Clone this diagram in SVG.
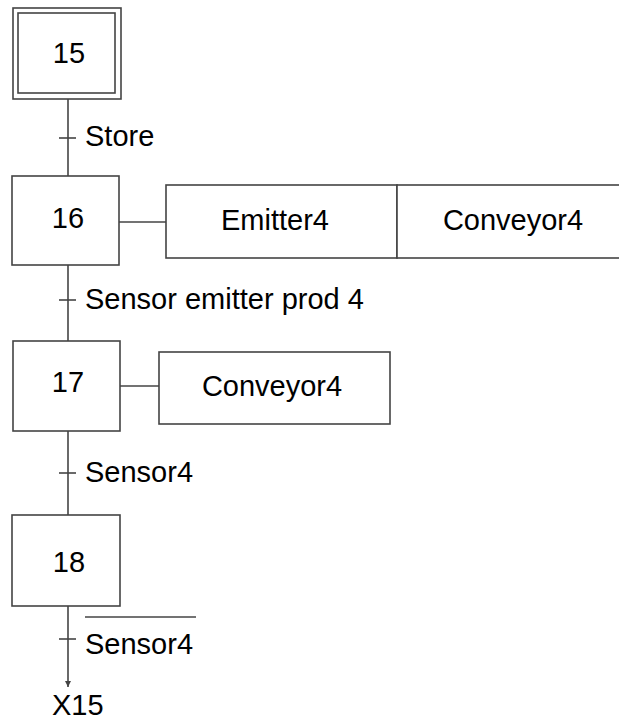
<svg xmlns="http://www.w3.org/2000/svg" width="619" height="722" viewBox="0 0 619 722">
<style>
.box{fill:#fff;stroke:#444;stroke-width:1.6}
.ln{fill:none;stroke:#444;stroke-width:1.6}
text{font-family:"Liberation Sans",Arial,sans-serif;font-size:29px;fill:#000}
.c{text-anchor:middle}
</style>
<defs>
<marker id="arr" markerWidth="8" markerHeight="8" refX="6" refY="4" orient="auto" markerUnits="userSpaceOnUse">
<path d="M0,1 L6,4 L0,7 Z" fill="#444"/>
</marker>
</defs>
<rect width="619" height="722" fill="#fff"/>
<g id="connectors">
<line class="ln" x1="68" y1="99" x2="68" y2="176"/>
<line class="ln" x1="59" y1="138" x2="76" y2="138"/>
<line class="ln" x1="68" y1="265" x2="68" y2="341"/>
<line class="ln" x1="59" y1="300" x2="76" y2="300"/>
<line class="ln" x1="68" y1="431" x2="68" y2="515"/>
<line class="ln" x1="59" y1="473" x2="76" y2="473"/>
<line class="ln" x1="68" y1="606" x2="68" y2="687" marker-end="url(#arr)"/>
<line class="ln" x1="59" y1="639" x2="76" y2="639"/>
<line class="ln" x1="85" y1="617" x2="196" y2="617"/>
<line class="ln" x1="119" y1="222" x2="166" y2="222"/>
<line class="ln" x1="120" y1="386" x2="159" y2="386"/>
</g>
<g id="labels">
<text x="85" y="146">Store</text>
<text x="85" y="309">Sensor emitter prod 4</text>
<text x="85" y="482">Sensor4</text>
<text x="85" y="654">Sensor4</text>
<text x="52" y="715">X15</text>
</g>
<g id="step15">
<rect class="box" x="13" y="8" width="108" height="91"/>
<rect class="box" x="18" y="13" width="97" height="80"/>
<text class="c" x="69" y="63">15</text>
</g>
<g id="step16">
<rect class="box" x="12" y="176" width="107" height="89"/>
<text class="c" x="68" y="228">16</text>
</g>
<g id="action16a">
<rect class="box" x="166" y="185" width="231" height="73"/>
<text class="c" x="275" y="230">Emitter4</text>
</g>
<g id="action16b">
<rect class="box" x="397" y="185" width="225" height="73"/>
<text class="c" x="513" y="230">Conveyor4</text>
</g>
<g id="step17">
<rect class="box" x="13" y="341" width="107" height="90"/>
<text class="c" x="68" y="392">17</text>
</g>
<g id="action17">
<rect class="box" x="159" y="352" width="231" height="72"/>
<text class="c" x="272" y="396">Conveyor4</text>
</g>
<g id="step18">
<rect class="box" x="12" y="515" width="108" height="91"/>
<text class="c" x="69" y="572">18</text>
</g>
</svg>
